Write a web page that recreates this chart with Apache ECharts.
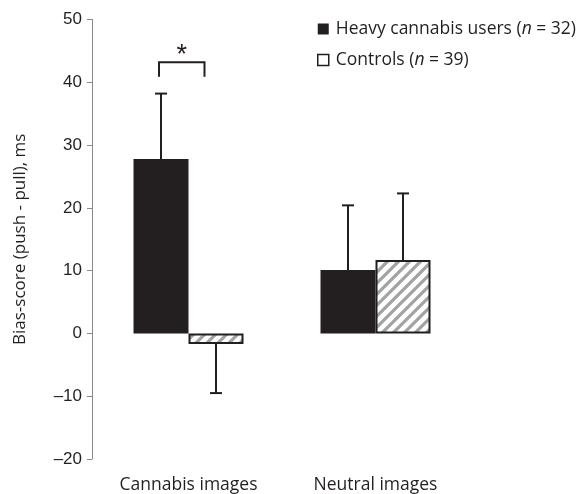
<!DOCTYPE html>
<html>
<head>
<meta charset="utf-8">
<script src="https://cdn.jsdelivr.net/npm/echarts@6/dist/echarts.min.js"></script>
<style>html,body{margin:0;padding:0;background:#fff}#c{width:580px;height:494px}</style>
</head>
<body>
<div id="c"></div>
<script>
const categories = ['Cannabis images', 'Neutral images'];
const heavyName = 'Heavy cannabis users (n = 32)';
const controlName = 'Controls (n = 39)';
const heavyMeans = [27.8, 10.1];
const heavySE = [10.4, 10.3];
const controlMeans = [-1.7, 11.7];
const controlSE = [7.8, 10.6];
const yTicks = { min: -20, max: 50, interval: 10 };
const yAxisName = 'Bias-score (push - pull), ms';
const bracket = { category: 0, top: 43.2, foot: 40.9, label: '*' };

const BAR_W = 55;
const INK = '#231f20';

function hatch() {
  const s = 11;
  const c = document.createElement('canvas');
  c.width = s; c.height = s;
  const g = c.getContext('2d');
  g.fillStyle = '#fff'; g.fillRect(0, 0, s, s);
  g.strokeStyle = '#a3a3a3'; g.lineWidth = 3.2;
  g.beginPath();
  for (let k = -1; k <= 1; k++) {
    g.moveTo(k * s - 1, s + 1); g.lineTo(k * s + s + 1, -1);
  }
  g.stroke();
  return c;
}

function errData(means, se) {
  return means.map((m, i) => [i, m, m + (m < 0 ? -se[i] : se[i])]);
}

function errSeries(data, offset) {
  return {
    type: 'custom', z: 5, silent: true,
    data: data,
    encode: { x: 0, y: [1, 2] },
    renderItem: function (params, api) {
      const a = api.coord([api.value(0), api.value(1)]);
      const b = api.coord([api.value(0), api.value(2)]);
      const x = a[0] + offset;
      const st = { stroke: INK, lineWidth: 2 };
      return { type: 'group', children: [
        { type: 'line', shape: { x1: x, y1: a[1], x2: x, y2: b[1] }, style: st },
        { type: 'line', shape: { x1: x - 6, y1: b[1], x2: x + 6, y2: b[1] }, style: st }
      ]};
    }
  };
}

const chart = echarts.init(document.getElementById('c'));
const option = {
  animation: false,
  backgroundColor: '#fff',
  textStyle: { fontFamily: 'Open Sans' },
  grid: { left: 95, width: 374, top: 19.5, bottom: 34.7 },
  legend: {
    orient: 'vertical', left: 317, top: 20, padding: 0,
    itemWidth: 11, itemHeight: 11, itemGap: 13,
    icon: 'rect',
    data: [
      { name: heavyName },
      { name: controlName, itemStyle: { color: '#fff', borderColor: INK, borderWidth: 1.5 } }
    ],
    formatter: n => n.replace('(n =', '({i|n} ='),
    textStyle: {
      fontFamily: 'Open Sans', fontSize: 17.5, color: INK, padding: [0, 0, 0, 2],
      rich: { i: { fontFamily: 'Open Sans', fontSize: 17.5, fontStyle: 'italic', color: INK } }
    }
  },
  xAxis: {
    type: 'category', data: categories,
    axisLine: { show: false, onZero: false }, axisTick: { show: false },
    axisLabel: { fontFamily: 'Open Sans', fontSize: 17.5, color: INK, margin: 17 }
  },
  yAxis: {
    type: 'value', min: yTicks.min, max: yTicks.max, interval: yTicks.interval,
    offset: 3,
    splitLine: { show: false },
    axisLine: { show: true, lineStyle: { color: '#8a8a8a', width: 1 } },
    axisTick: { show: true, length: 5, lineStyle: { color: '#8a8a8a' } },
    axisLabel: {
      fontFamily: 'Liberation Sans', fontSize: 17, color: INK, margin: 10,
      formatter: v => String(v).replace('-', '\u2013')
    },
    name: yAxisName, nameLocation: 'middle', nameGap: 63,
    nameTextStyle: { fontFamily: 'Open Sans', fontSize: 17, color: INK }
  },
  series: [
    { name: heavyName, type: 'bar', data: heavyMeans, barWidth: BAR_W, barGap: '0%',
      itemStyle: { color: INK } },
    { name: controlName, type: 'bar', data: controlMeans, barWidth: BAR_W,
      itemStyle: { color: { image: hatch(), repeat: 'repeat' }, borderColor: INK, borderWidth: 2 } },
    errSeries(errData(heavyMeans, heavySE), -BAR_W / 2),
    errSeries(errData(controlMeans, controlSE), BAR_W / 2),
    {
      type: 'custom', z: 6, silent: true,
      data: [[bracket.category, bracket.top, bracket.foot]],
      encode: { x: 0, y: [1, 2] },
      renderItem: function (params, api) {
        const t = api.coord([api.value(0), api.value(1)]);
        const f = api.coord([api.value(0), api.value(2)]);
        const xl = t[0] - BAR_W / 2 - 2, xr = t[0] + 16;
        return { type: 'group', children: [
          { type: 'polyline', shape: { points: [[xl, f[1]], [xl, t[1]], [xr, t[1]], [xr, f[1]]] },
            style: { stroke: INK, lineWidth: 2, fill: null } },
          { type: 'text', style: { text: bracket.label, x: (xl + xr) / 2, y: t[1] + 7,
            align: 'center', verticalAlign: 'bottom', fontSize: 27, fontFamily: 'Liberation Sans', fill: INK } }
        ]};
      }
    }
  ]
};
chart.setOption(option);
</script>
</body>
</html>
